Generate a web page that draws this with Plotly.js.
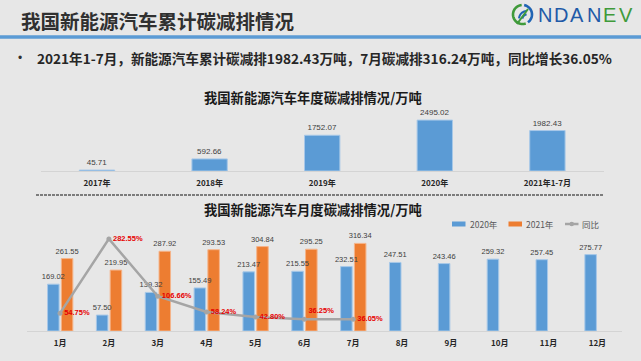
<!DOCTYPE html>
<html>
<head>
<meta charset="utf-8">
<script src="https://cdn.plot.ly/plotly-3.0.1.min.js"></script>
<style>html,body{margin:0;padding:0;background:#e7e7e7;}#chart{width:641px;height:361px;}</style>
</head>
<body>
<div id="chart"></div>
<script>
// ---- data ----
const years = ['2017年', '2018年', '2019年', '2020年', '2021年1-7月'];
const annual = [45.71, 592.66, 1752.07, 2495.02, 1982.43];
const months = ['1月', '2月', '3月', '4月', '5月', '6月', '7月', '8月', '9月', '10月', '11月', '12月'];
const v2020 = [169.02, 57.50, 139.32, 155.49, 213.47, 215.55, 232.51, 247.51, 243.46, 259.32, 257.45, 275.77];
const v2021 = [261.55, 219.95, 287.92, 293.53, 304.84, 295.25, 316.34, null, null, null, null, null];
const yoyMonths = ['1月', '2月', '3月', '4月', '5月', '6月', '7月'];
const yoy = [54.75, 282.55, 106.66, 58.24, 42.80, 36.25, 36.05];
const seriesNames = ['2020年', '2021年', '同比'];

// ---- helpers: pixel -> paper ----
const W = 641, H = 361;
const px = x => x / W;
const py = y => 1 - y / H;
const CJK = '"Noto Sans CJK SC", "Noto Sans", sans-serif';
const NUM = '"Liberation Sans", Arial, sans-serif';
const BLUE = '#5b9bd5', ORANGE = '#ed7d31', GRAY = '#a5a5a5';

function arcPath(cx, cy, r, a0, a1) {
  let d = '';
  const n = 30;
  for (let i = 0; i <= n; i++) {
    const a = (a0 + (a1 - a0) * i / n) * Math.PI / 180;
    const x = px(cx + r * Math.cos(a));
    const y = py(cy - r * Math.sin(a));
    d += (i === 0 ? 'M' : 'L') + x.toFixed(5) + ',' + y.toFixed(5);
  }
  return d;
}

const barLabelFont = {family: NUM, size: 7.5, color: '#404040'};

const traces = [
  {
    type: 'bar', x: years, y: annual, xaxis: 'x', yaxis: 'y',
    width: 0.314,
    marker: {color: BLUE, line: {color: '#a7c8e8', width: 1}},
    texttemplate: '%{y:.2f}', textposition: 'outside', cliponaxis: false,
    textfont: {family: NUM, size: 8, color: '#404040'},
    constraintext: 'none', showlegend: false, hoverinfo: 'skip'
  },
  // 2021 drawn first so the 2020 labels sit on top of the orange bars
  {
    type: 'bar', name: seriesNames[1], x: months, y: v2021, xaxis: 'x2', yaxis: 'y2',
    width: 0.236, offset: 0.026,
    marker: {color: ORANGE, line: {color: '#f5b48a', width: 1}},
    texttemplate: '%{y:.2f}', textposition: 'outside', cliponaxis: false,
    textfont: barLabelFont,
    constraintext: 'none', showlegend: false, hoverinfo: 'skip'
  },
  {
    type: 'bar', name: seriesNames[0], x: months, y: v2020, xaxis: 'x2', yaxis: 'y2',
    width: 0.236, offset: -0.256,
    marker: {color: BLUE, line: {color: '#a7c8e8', width: 1}},
    texttemplate: '%{y:.2f}', textposition: 'outside', cliponaxis: false,
    textfont: barLabelFont,
    constraintext: 'none', showlegend: false, hoverinfo: 'skip'
  },
  {
    type: 'scatter', name: seriesNames[2], x: yoyMonths, y: yoy, xaxis: 'x2', yaxis: 'y3',
    mode: 'lines+markers+text',
    line: {color: GRAY, width: 2.5},
    marker: {color: GRAY, size: 5},
    text: yoy.map(v => v.toFixed(2) + '%'),
    textposition: yoy.map((v, i) => i === 5 ? 'top right' : 'middle right'),
    textfont: {family: NUM, size: 7.5, color: '#e60000', weight: 'bold'},
    cliponaxis: false, showlegend: false, hoverinfo: 'skip'
  }
];

const shapes = [
  // header blue rule
  {type: 'rect', xref: 'paper', yref: 'paper', x0: 0, x1: 1, y0: py(38.8), y1: py(35.2),
   fillcolor: BLUE, line: {width: 0}},
  // dashed separator
  {type: 'line', xref: 'paper', yref: 'paper', x0: px(36), x1: px(604), y0: py(195), y1: py(195),
   line: {color: '#5a5a5a', width: 1.5, dash: '3px,1px'}},
  // legend swatches
  {type: 'rect', xref: 'paper', yref: 'paper', x0: px(452), x1: px(465.5), y0: py(226.5), y1: py(221.5),
   fillcolor: BLUE, line: {width: 0}},
  {type: 'rect', xref: 'paper', yref: 'paper', x0: px(508.5), x1: px(522), y0: py(226.5), y1: py(221.5),
   fillcolor: ORANGE, line: {width: 0}},
  {type: 'line', xref: 'paper', yref: 'paper', x0: px(565), x1: px(578.5), y0: py(224), y1: py(224),
   line: {color: GRAY, width: 2.5}},
  {type: 'circle', xref: 'paper', yref: 'paper', x0: px(569.5), x1: px(574), y0: py(226.2), y1: py(221.8),
   fillcolor: GRAY, line: {width: 0}},
  // logo icon
  {type: 'path', xref: 'paper', yref: 'paper', path: arcPath(522.5, 14.5, 9.5, 95, 290),
   line: {color: '#3f9a3a', width: 2.6}},
  {type: 'path', xref: 'paper', yref: 'paper', path: arcPath(522.5, 14.5, 9.5, -55, 80),
   line: {color: '#1f64b4', width: 2.6}},
  {type: 'path', xref: 'paper', yref: 'paper', path: arcPath(527, 19, 8, 95, 175),
   line: {color: '#1f64b4', width: 2}},
  {type: 'path', xref: 'paper', yref: 'paper', path: arcPath(527, 19, 4.5, 95, 175),
   line: {color: '#1f64b4', width: 2}},
  {type: 'line', xref: 'paper', yref: 'paper', x0: px(517), x1: px(528), y0: py(24), y1: py(9),
   line: {color: '#3f9a3a', width: 2}}
];

const annotations = [
  {text: '<b>我国新能源汽车累计碳减排情况</b>', x: px(19), y: py(20), xanchor: 'left', yanchor: 'middle',
   font: {family: CJK, size: 19.5, color: '#303030'}},
  {text: '•', x: px(20), y: py(58), xanchor: 'center', yanchor: 'middle',
   font: {family: NUM, size: 12, color: '#303030'}},
  {text: '<b>2021年1-7月，新能源汽车累计碳减排1982.43万吨，7月碳减排316.24万吨，同比增长36.05%</b>',
   x: px(35), y: py(58), xanchor: 'left', yanchor: 'middle',
   font: {family: CJK, size: 13.6, color: '#262626'}},
  {text: '<b>我国新能源汽车年度碳减排情况/万吨</b>', x: px(313), y: py(97), xanchor: 'center', yanchor: 'middle',
   font: {family: CJK, size: 13.3, color: '#1a1a1a'}},
  {text: '<b>我国新能源汽车月度碳减排情况/万吨</b>', x: px(313), y: py(209.5), xanchor: 'center', yanchor: 'middle',
   font: {family: CJK, size: 13.3, color: '#1a1a1a'}},
  // legend labels
  {text: seriesNames[0], x: px(467.5), y: py(224), xanchor: 'left', yanchor: 'middle',
   font: {family: CJK, size: 8.5, color: '#595959'}},
  {text: seriesNames[1], x: px(524), y: py(224), xanchor: 'left', yanchor: 'middle',
   font: {family: CJK, size: 8.5, color: '#595959'}},
  {text: seriesNames[2], x: px(580), y: py(224), xanchor: 'left', yanchor: 'middle',
   font: {family: CJK, size: 8.5, color: '#595959'}}
];

// logo letters
const logoLetters = ['N', 'D', 'A', 'N', 'E', 'V'];
const logoColors = ['#1f5aa8', '#1f5aa8', '#1f5aa8', '#1f5aa8', '#3f9a3a', '#3f9a3a'];
logoLetters.forEach((ch, i) => {
  annotations.push({text: ch, x: px(545 + i * 16.2), y: py(15), xanchor: 'center', yanchor: 'middle',
    font: {family: NUM, size: 20, color: logoColors[i]}});
});
annotations.forEach(a => { a.xref = 'paper'; a.yref = 'paper'; a.showarrow = false; });

const tickFont = {family: CJK, size: 8, color: '#262626', weight: 'bold'};

const layout = {
  width: W, height: H,
  margin: {l: 0, r: 0, t: 0, b: 0},
  paper_bgcolor: '#e7e7e7', plot_bgcolor: 'rgba(0,0,0,0)',
  barmode: 'group', bargap: 0.475, bargroupgap: 0.08,
  showlegend: false,
  xaxis: {domain: [px(40.7), px(603.7)], anchor: 'y', type: 'category',
    showline: true, linecolor: '#d4d4d4', linewidth: 1, showgrid: false, zeroline: false,
    ticks: '', tickfont: tickFont, ticklabelstandoff: 4, fixedrange: true},
  yaxis: {domain: [py(171), py(115)], anchor: 'x', range: [0, 2745], visible: false, fixedrange: true},
  xaxis2: {domain: [px(27.2), px(621.8)], anchor: 'y2', type: 'category', categoryorder: 'array', categoryarray: months,
    showline: true, linecolor: '#d4d4d4', linewidth: 1, showgrid: false, zeroline: false,
    ticks: '', tickfont: tickFont, ticklabelstandoff: 4, fixedrange: true},
  yaxis2: {domain: [py(331), py(235)], anchor: 'x2', range: [0, 346.6], visible: false, fixedrange: true},
  yaxis3: {overlaying: 'y2', anchor: 'x2', side: 'right', range: [0, 294.5], visible: false, fixedrange: true},
  shapes: shapes,
  annotations: annotations
};

Plotly.newPlot('chart', traces, layout, {displayModeBar: false, staticPlot: true});
</script>
</body>
</html>
